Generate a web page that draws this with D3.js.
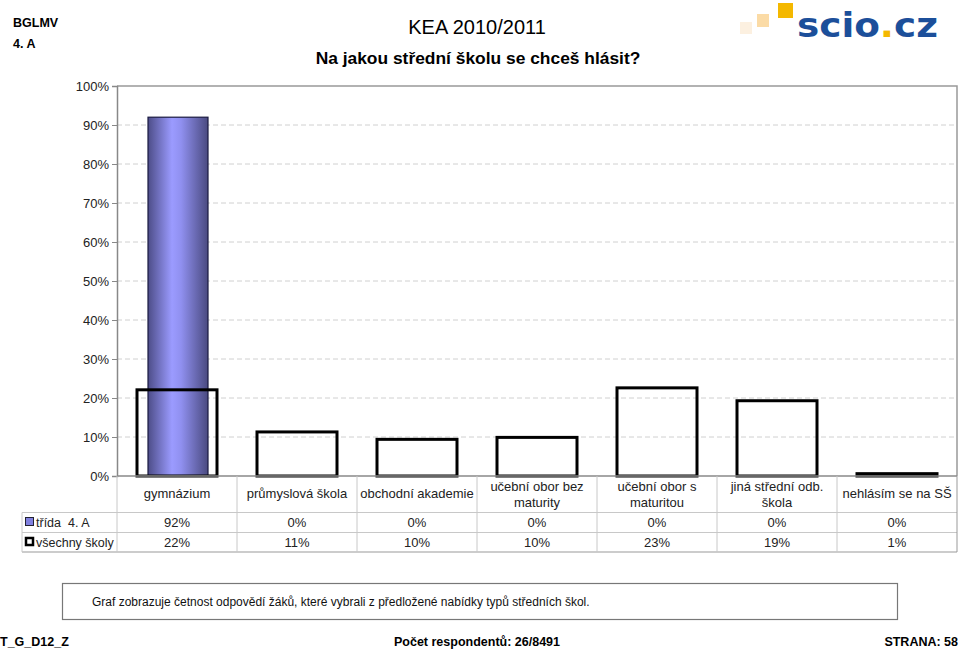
<!DOCTYPE html>
<html><head><meta charset="utf-8">
<script src="https://cdn.jsdelivr.net/npm/d3@7"></script>
<style>
body{margin:0;background:#fff;}
svg{display:block;font-family:"Liberation Sans",Arial,sans-serif;}
</style></head>
<body><svg id="c" width="960" height="649"></svg>
<script>
const categories = [["gymnázium"],["průmyslová škola"],["obchodní akademie"],["učební obor bez","maturity"],["učební obor s","maturitou"],["jiná střední odb.","škola"],["nehlásím se na SŠ"]];
const classValues = [92, 0, 0, 0, 0, 0, 0];
const classLabels = ["92%","0%","0%","0%","0%","0%","0%"];
const allValues = [22.1, 11.3, 9.4, 9.9, 22.6, 19.3, 0.6];
const allLabels = ["22%","11%","10%","10%","23%","19%","1%"];
const yTicks = [0,10,20,30,40,50,60,70,80,90,100];
const seriesNames = ["třída\u00a0\u00a04. A","všechny školy"];

const svg = d3.select("#c");
const L = 117, R = 957, T = 86, B = 476;
const x = d3.scaleBand().domain(d3.range(categories.length)).range([L, R]);
const y = d3.scaleLinear().domain([0, 100]).range([B, T]);
const fs = 13;

// header
svg.append("text").attr("x",13).attr("y",27).attr("font-size",12.5).attr("font-weight","bold").text("BGLMV");
svg.append("text").attr("x",13).attr("y",48).attr("font-size",12.5).attr("font-weight","bold").text("4. A");
svg.append("text").attr("x",477).attr("y",34).attr("text-anchor","middle").attr("font-size",20).text("KEA 2010/2011");
svg.append("text").attr("x",478).attr("y",64).attr("text-anchor","middle").attr("font-size",17.4).attr("font-weight","bold").text("Na jakou střední školu se chceš hlásit?");

// logo
const logo = svg.append("g");
logo.append("rect").attr("x",740).attr("y",22).attr("width",12).attr("height",12).attr("fill","#fcf0e0");
logo.append("rect").attr("x",757).attr("y",14).attr("width",12).attr("height",13).attr("fill","#fbdba6");
logo.append("rect").attr("x",778).attr("y",3).attr("width",15).attr("height",15).attr("fill","#f4b800");
const lt = logo.append("text").attr("x",797).attr("y",37).attr("font-size",33).attr("font-weight","bold")
  .attr("font-family","DejaVu Sans, sans-serif").attr("fill","#1c4f9a").attr("textLength",141).attr("lengthAdjust","spacingAndGlyphs");
lt.append("tspan").text("scio");
lt.append("tspan").attr("fill","#f4b800").text(".");
lt.append("tspan").text("cz");

// gradient
const defs = svg.append("defs");
const g = defs.append("linearGradient").attr("id","bg").attr("x1","0%").attr("x2","100%");
g.append("stop").attr("offset","0%").attr("stop-color","#4d4d88");
g.append("stop").attr("offset","40%").attr("stop-color","#9b9bff");
g.append("stop").attr("offset","55%").attr("stop-color","#9090f0");
g.append("stop").attr("offset","100%").attr("stop-color","#4a4a80");

// grid
svg.append("g").selectAll("line").data(yTicks.filter(d=>d>0 && d<100)).join("line")
  .attr("x1",L).attr("x2",R).attr("y1",d=>y(d)).attr("y2",d=>y(d))
  .attr("stroke","#d0d0d0").attr("stroke-dasharray","5,3");
// plot border top/right
svg.append("path").attr("d",`M${L},${T}H${R}V${B}`).attr("fill","none").attr("stroke","#999").attr("stroke-width",1.5);

// y axis
const ya = svg.append("g").attr("transform",`translate(${L},0)`)
  .call(d3.axisLeft(y).tickValues(yTicks).tickFormat(d=>d+"%").tickSize(5).tickPadding(3));
ya.select(".domain").attr("stroke","#888").attr("stroke-width",1.5);
ya.selectAll(".tick line").attr("stroke","#888");
ya.selectAll("text").attr("font-size",fs).attr("fill","#222").attr("font-family","Liberation Sans, Arial, sans-serif");

// class bars
const bw1 = 60;
svg.append("g").selectAll("rect").data(classValues).join("rect")
  .attr("x",(d,i)=>x(i)+x.bandwidth()/2-bw1/2+1).attr("width",bw1)
  .attr("y",d=>y(d)).attr("height",d=>B-y(d))
  .attr("fill","url(#bg)").attr("stroke","#1a1a40").attr("stroke-width",1.2)
  .attr("display",d=>d>0?null:"none");

// all-schools outline bars
const bw2 = 80;
svg.append("g").selectAll("rect").data(allValues).join("rect")
  .attr("x",(d,i)=>x(i)+x.bandwidth()/2-bw2/2).attr("width",bw2)
  .attr("y",d=>y(d)).attr("height",d=>B-y(d))
  .attr("fill","none").attr("stroke","#000").attr("stroke-width",3);

// baseline
svg.append("line").attr("x1",L).attr("x2",R).attr("y1",B).attr("y2",B).attr("stroke","#888").attr("stroke-width",1.5);

// table
const tbl = svg.append("g");
const r1 = 512.5, r2 = 532.5, r3 = 552;
const tc = "#c8c8c8";
[r1,r2].forEach(yy=>tbl.append("line").attr("x1",22).attr("x2",R).attr("y1",yy).attr("y2",yy).attr("stroke",tc));
tbl.append("line").attr("x1",22).attr("x2",R).attr("y1",r3).attr("y2",r3).attr("stroke","#bbb").attr("stroke-width",1.5);
tbl.append("line").attr("x1",22).attr("x2",22).attr("y1",r1).attr("y2",r3).attr("stroke",tc);
tbl.selectAll(".vl").data(d3.range(categories.length+1)).join("line")
  .attr("x1",i=>i<categories.length?x(i):R).attr("x2",i=>i<categories.length?x(i):R)
  .attr("y1",B).attr("y2",r3).attr("stroke",i=>i==categories.length?"#999":tc);

// category labels
categories.forEach((lines,i)=>{
  const cx = x(i)+x.bandwidth()/2;
  const t = tbl.append("text").attr("x",cx).attr("text-anchor","middle").attr("font-size",fs).attr("fill","#222");
  const y0 = lines.length===1 ? 498 : 491;
  lines.forEach((s,j)=>t.append("tspan").attr("x",cx).attr("y",y0+j*15.5).text(s));
});
// row values
[classLabels, allLabels].forEach((arr,r)=>{
  tbl.selectAll(null).data(arr).join("text")
    .attr("x",(d,i)=>x(i)+x.bandwidth()/2).attr("y",r===0?527:547)
    .attr("text-anchor","middle").attr("font-size",fs).attr("fill","#222").text(d=>d);
});
// legend
tbl.append("rect").attr("x",25.5).attr("y",517.5).attr("width",8).attr("height",8).attr("fill","#8080e0").attr("stroke","#223").attr("stroke-width",1);
tbl.append("rect").attr("x",26).attr("y",538).attr("width",7).attr("height",7).attr("fill","#fff").attr("stroke","#000").attr("stroke-width",2.5);
tbl.append("text").attr("x",36).attr("y",527).attr("font-size",12.5).attr("fill","#222").text(seriesNames[0]);
tbl.append("text").attr("x",36).attr("y",547).attr("font-size",12.5).attr("fill","#222").text(seriesNames[1]);

// note box
svg.append("rect").attr("x",62.5).attr("y",583.5).attr("width",835).attr("height",36).attr("fill","#fff").attr("stroke","#777").attr("stroke-width",1.2);
svg.append("text").attr("x",92).attr("y",606).attr("font-size",12).attr("font-family","Liberation Sans Narrow, Arial Narrow, sans-serif")
  .attr("fill","#111").text("Graf zobrazuje četnost odpovědí žáků, které vybrali z předložené nabídky typů středních škol.");

// footer
const ff = "Liberation Sans Narrow, Arial Narrow, sans-serif";
svg.append("text").attr("x",0).attr("y",646).attr("font-size",12.5).attr("font-weight","bold").attr("font-family",ff).text("T_G_D12_Z");
svg.append("text").attr("x",477).attr("y",646).attr("text-anchor","middle").attr("font-size",12.5).attr("font-weight","bold").attr("font-family",ff).text("Počet respondentů: 26/8491");
svg.append("text").attr("x",958).attr("y",646).attr("text-anchor","end").attr("font-size",12.5).attr("font-weight","bold").attr("font-family",ff).text("STRANA: 58");
</script></body></html>
